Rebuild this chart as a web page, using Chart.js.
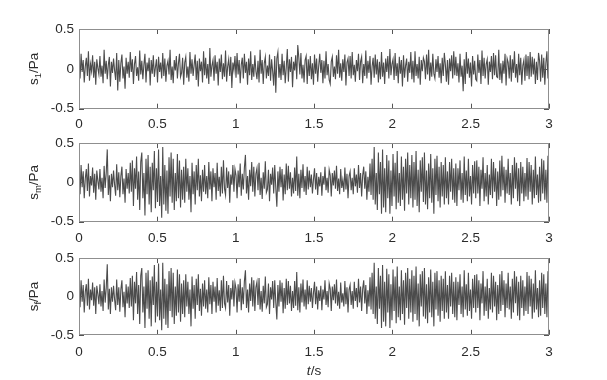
<!DOCTYPE html>
<html><head><meta charset="utf-8">
<script src="https://cdn.jsdelivr.net/npm/chart.js@4"></script>
<style>
html,body{margin:0;padding:0;background:#fff;}
#wrap{position:relative;width:607px;height:380px;overflow:hidden;}
canvas{position:absolute;left:0;}
</style></head><body>
<div id="wrap">
<canvas id="c1" width="607" height="130" style="top:0px;width:607px;height:130px"></canvas>
<canvas id="c2" width="607" height="115" style="top:130px;width:607px;height:115px"></canvas>
<canvas id="c3" width="607" height="135" style="top:245px;width:607px;height:135px"></canvas>
</div>
<script>
const duration = 3; // seconds, uniform sampling over [0, duration]
const xTicks = [0, 0.5, 1, 1.5, 2, 2.5, 3];
const xTickLabels = ['0', '0.5', '1', '1.5', '2', '2.5', '3'];
const yTicks = [-0.5, 0, 0.5];
const yTickLabels = ['-0.5', '0', '0.5'];

// s_1 / Pa
const s1 = [
 .08,-.12,.19,-.04,.11,-.17,.03,.14,-.09,.22,
 -.15,.06,-.03,.17,-.11,.09,-.20,.12,.01,-.07,
 .16,-.10,.04,-.18,.24,-.06,.10,-.13,.05,.15,
 -.22,.09,-.05,.13,-.02,-.14,.20,-.27,.11,-.16,
 .07,.18,-.12,.03,-.25,.14,-.06,.09,-.11,.21,
 -.04,.12,-.19,.06,.16,-.09,.02,-.15,.23,-.07,
 .10,-.13,.05,.19,-.17,.08,-.03,.14,-.21,.11,
 -.06,.17,-.10,.02,.12,-.17,.15,-.04,.08,-.12,
 .20,-.09,.13,-.16,.04,.10,-.07,.24,-.14,.03,
 -.18,.11,-.02,.16,-.12,.07,.19,-.10,-.05,.14,
 -.20,.08,.15,-.11,.03,-.16,.21,-.06,.12,-.09,
 .05,.18,-.14,.10,-.22,.13,-.03,.09,-.17,.22,
 -.08,.14,-.12,.06,-.19,.26,-.10,.04,.11,-.15,
 .17,-.06,.09,-.21,.13,-.04,.18,-.13,.07,-.10,
 .23,-.16,.03,.12,-.09,.15,-.24,.08,-.02,.16,
 -.11,.20,-.07,.11,-.18,.05,.14,-.12,.19,-.05,
 .09,-.20,.13,-.08,.22,-.14,.06,-.10,.17,-.03,
 -.13,.10,-.17,.24,-.06,.11,-.19,.07,.15,-.12,
 .04,-.09,.18,-.15,.12,-.03,-.21,.16,-.30,.13,
 .21,-.11,.06,-.14,.19,-.08,.10,-.18,.02,.25,
 -.16,.12,-.04,.15,-.23,.09,-.02,.17,-.13,.30,
 .14,-.07,.20,-.12,.05,-.17,.11,.16,-.19,.12,
 -.09,.16,-.13,.07,-.20,.18,-.06,.13,-.16,.04,
 .19,-.05,.11,-.18,.10,-.12,.22,-.08,.06,-.14,
 -.19,.09,.15,-.10,.03,-.13,.17,-.06,.24,-.11,
 .07,-.15,.12,-.04,.18,-.21,.08,.13,-.09,.16,
 -.12,.21,-.08,.05,-.16,.11,-.03,.19,-.14,.09,
 .15,-.18,.06,-.09,.23,-.12,.10,-.05,.16,-.20,
 .03,.14,-.11,.18,-.07,.12,-.17,.09,-.13,.21,
 -.10,.08,-.19,.13,-.04,.16,-.12,.25,-.08,.06,
 .12,-.14,.20,-.09,.07,-.18,.15,-.06,.11,-.22,
 .17,-.11,.04,.13,-.16,.09,-.05,.21,-.13,.10,
 -.17,.22,-.09,.06,-.12,.15,-.20,.11,-.03,.14,
 .09,-.13,.18,-.07,.24,-.15,.08,-.10,.19,-.06,
 -.12,.12,-.04,.16,-.11,.07,-.18,.14,-.09,.20,
 .05,-.16,.11,-.20,.13,-.03,.17,-.12,.22,-.08,
 .15,-.09,.07,-.17,.19,-.10,.04,-.28,.12,-.19,
 .21,-.06,.13,-.11,.08,-.22,.16,-.07,.10,-.13,
 -.15,.18,-.05,.11,-.19,.23,-.09,.14,-.12,.06,
 .12,-.20,.09,-.04,.16,-.13,.20,-.08,.17,-.10,
 -.11,.24,-.14,.07,-.18,.10,-.06,.19,-.21,.13,
 .08,-.12,.17,-.16,.12,-.05,.22,-.11,.06,-.17,
 .19,-.08,.14,-.20,.04,.11,-.15,.18,-.09,.16,
 -.13,.21,-.10,.15,-.07,.13,-.19,.09,-.14,.20,
 .10,-.16,.18,-.11,.14,-.20,.07,.22,-.12,.20
];

// s_m / Pa
const sm = [
 .10,-.15,.22,-.06,.14,-.20,.05,.17,-.11,.24,
 -.18,.08,-.04,.19,-.13,.11,-.22,.15,.02,-.09,
 .17,-.12,.06,-.20,.21,-.07,.12,.42,-.16,.09,
 -.24,.11,-.06,.15,-.03,-.17,.23,-.10,.13,-.19,
 .08,.20,-.15,.05,-.26,.17,-.08,.12,-.14,.25,
 -.12,.28,-.30,.18,-.08,.33,-.22,.14,-.35,.26,
 .38,-.20,.12,-.42,.30,-.15,.35,-.28,.20,-.38,
 .25,-.10,.40,-.33,.18,-.25,.42,-.30,.08,-.45,
 .45,-.28,.22,-.36,.15,-.40,.32,-.18,.38,-.26,
 .30,-.35,.12,-.24,.36,-.20,.28,-.32,.16,-.22,
 .20,-.26,.30,-.12,.18,-.22,.08,-.38,.25,-.15,
 .14,-.28,.22,-.10,.30,-.18,.09,-.24,.16,-.12,
 .22,-.15,.08,-.20,.26,-.09,.14,-.24,.18,-.06,
 .12,-.22,.25,-.11,.07,-.18,.20,-.14,.28,-.08,
 -.16,.19,-.07,.14,-.26,.10,-.03,.22,-.12,.17,
 .09,-.20,.15,-.06,.24,-.17,.11,-.09,.19,.35,
 -.14,.08,-.22,.16,-.05,.26,-.12,.20,-.18,.11,
 .18,-.10,.25,-.16,.06,-.21,.13,-.08,.27,-.13,
 -.09,.16,-.24,.11,-.03,.19,-.14,.22,-.07,-.31,
 .14,-.12,.20,-.06,.17,-.23,.10,-.15,.24,-.10,
 .21,-.08,.13,-.18,.06,-.14,.19,-.11,.33,-.17,
 .11,-.20,.16,-.07,.23,-.12,.08,-.16,.20,-.09,
 .15,-.06,.10,-.14,.04,.18,-.09,.12,-.16,.07,
 -.05,.13,-.17,.08,-.03,.20,-.10,.06,-.13,.16,
 .09,-.18,.12,-.04,.15,-.08,.21,-.11,.05,-.15,
 .17,-.07,.03,-.12,.19,-.09,.11,-.20,.08,.14,
 -.10,.06,-.15,.18,-.05,.10,-.13,.22,-.07,.12,
 -.18,.09,.20,-.08,.14,-.22,.07,-.12,.24,-.16,
 .30,-.22,.45,-.28,.12,-.35,.38,-.15,.26,-.40,
 .42,-.32,.18,-.38,.35,-.20,.28,-.40,.15,-.30,
 .36,-.18,.25,-.34,.40,-.26,.12,-.30,.33,-.22,
 .20,-.36,.30,-.14,.38,-.28,.22,-.20,.35,-.32,
 .26,-.22,.40,-.30,.16,-.38,.28,-.12,.32,-.25,
 .38,-.28,.15,-.34,.24,-.20,.36,-.26,.18,-.40,
 .30,-.16,.34,-.24,.20,-.32,.26,-.18,.22,-.28,
 .32,-.20,.14,-.28,.26,-.12,.30,-.22,.18,-.26,
 .24,-.30,.18,-.10,.28,-.22,.12,-.26,.33,-.16,
 .15,-.24,.30,-.18,.08,-.28,.22,-.14,.27,-.20,
 .28,-.14,.20,-.30,.16,-.08,.32,-.24,.12,-.18,
 .22,-.28,.10,-.16,.30,-.20,.26,-.12,.18,-.30,
 .14,-.22,.28,-.18,.34,-.10,.20,-.26,.16,-.14,
 .30,-.16,.12,-.28,.22,-.20,.32,-.08,.25,-.24,
 .18,-.30,.26,-.14,.20,-.24,.12,-.18,.31,-.22,
 .26,-.12,.22,-.28,.16,-.20,.33,-.16,.10,-.26,
 .20,-.24,.30,-.14,.28,-.22,.16,-.26,.34,.12
];

// s_f / Pa
const sf = [
 .11,-.14,.21,-.07,.15,-.21,.06,.16,-.12,.23,
 -.17,.09,-.05,.18,-.12,.12,-.23,.14,.03,-.10,
 .16,-.13,.07,-.19,.22,-.08,.11,.42,-.17,.10,
 -.23,.12,-.07,.14,-.04,-.18,.22,-.11,.12,-.20,
 .09,.21,-.14,.06,-.27,.16,-.09,.13,-.15,.24,
 -.13,.27,-.31,.19,-.09,.32,-.23,.15,-.36,.27,
 .37,-.21,.13,-.41,.31,-.16,.34,-.29,.21,-.39,
 .26,-.11,.41,-.34,.19,-.26,.43,-.31,.09,-.44,
 .44,-.29,.23,-.37,.16,-.41,.33,-.19,.37,-.27,
 .31,-.36,.13,-.25,.35,-.21,.29,-.33,.17,-.23,
 .21,-.27,.29,-.13,.19,-.23,.09,-.39,.26,-.16,
 .15,-.29,.23,-.11,.29,-.19,.10,-.25,.17,-.13,
 .21,-.16,.09,-.21,.25,-.10,.15,-.23,.19,-.07,
 .13,-.21,.24,-.12,.08,-.19,.21,-.15,.27,-.09,
 -.15,.20,-.08,.15,-.25,.11,-.04,.21,-.13,.18,
 .10,-.21,.16,-.07,.23,-.18,.12,-.10,.20,.34,
 -.15,.09,-.21,.17,-.06,.25,-.13,.21,-.19,.12,
 .19,-.11,.24,-.17,.07,-.20,.14,-.09,.26,-.14,
 -.10,.17,-.23,.12,-.04,.20,-.15,.21,-.08,-.30,
 .15,-.13,.21,-.07,.18,-.22,.11,-.16,.23,-.11,
 .20,-.09,.14,-.19,.07,-.15,.20,-.12,.32,-.18,
 .12,-.21,.17,-.08,.22,-.13,.09,-.17,.21,-.10,
 .14,-.07,.11,-.15,.05,.19,-.10,.13,-.17,.08,
 -.06,.14,-.18,.09,-.04,.21,-.11,.07,-.14,.17,
 .10,-.19,.13,-.05,.16,-.09,.22,-.12,.06,-.16,
 .18,-.08,.04,-.13,.20,-.10,.12,-.21,.09,.15,
 -.11,.07,-.16,.19,-.06,.11,-.14,.23,-.08,.13,
 -.19,.10,.21,-.09,.15,-.23,.08,-.13,.25,-.17,
 .31,-.23,.44,-.29,.13,-.36,.37,-.16,.27,-.41,
 .41,-.33,.19,-.39,.36,-.21,.29,-.41,.16,-.31,
 .35,-.19,.26,-.35,.39,-.27,.13,-.31,.34,-.23,
 .21,-.37,.31,-.15,.37,-.29,.23,-.21,.34,-.33,
 .27,-.23,.39,-.31,.17,-.39,.29,-.13,.33,-.26,
 .37,-.29,.16,-.35,.25,-.21,.35,-.27,.19,-.39,
 .31,-.17,.33,-.25,.21,-.33,.27,-.19,.23,-.29,
 .33,-.21,.15,-.29,.27,-.13,.31,-.23,.19,-.27,
 .25,-.31,.19,-.11,.29,-.23,.13,-.27,.34,-.17,
 .16,-.25,.31,-.19,.09,-.29,.23,-.15,.28,-.21,
 .29,-.15,.21,-.31,.17,-.09,.33,-.25,.13,-.19,
 .23,-.29,.11,-.17,.31,-.21,.27,-.13,.19,-.31,
 .15,-.23,.29,-.19,.33,-.11,.21,-.27,.17,-.15,
 .31,-.17,.13,-.29,.23,-.21,.33,-.09,.26,-.25,
 .19,-.31,.27,-.15,.21,-.25,.13,-.19,.32,-.23,
 .27,-.13,.23,-.29,.17,-.21,.34,-.17,.11,-.27,
 .21,-.25,.31,-.15,.29,-.23,.17,-.27,.33,.11
];

const FONT = '"Liberation Sans", Arial, Helvetica, sans-serif';
const TEXT = '#2b2b2b';
const FS = 13.5;

function toPoints(values) {
  const n = values.length;
  return values.map((v, i) => ({ x: i * duration / (n - 1), y: v }));
}

function framePlugin(sub, showXTitle) {
  return {
    id: 'matlabFrame',
    afterDraw(chart) {
      const { ctx, chartArea: a, scales } = chart;
      const x = scales.x, y = scales.y;
      ctx.save();
      ctx.strokeStyle = '#555555';
      ctx.lineWidth = 1;
      const tl = 5;
      ctx.beginPath();
      xTicks.forEach(v => {
        const px = Math.round(x.getPixelForValue(v)) + 0.5;
        ctx.moveTo(px, a.bottom); ctx.lineTo(px, a.bottom - tl);
        ctx.moveTo(px, a.top); ctx.lineTo(px, a.top + tl);
      });
      yTicks.forEach(v => {
        const py = Math.round(y.getPixelForValue(v)) + 0.5;
        ctx.moveTo(a.left, py); ctx.lineTo(a.left + tl, py);
        ctx.moveTo(a.right, py); ctx.lineTo(a.right - tl, py);
      });
      ctx.stroke();
      ctx.strokeStyle = '#8f8f8f';
      ctx.strokeRect(Math.round(a.left) + 0.5, Math.round(a.top) + 0.5,
                     Math.round(a.right) - Math.round(a.left) - 1,
                     Math.round(a.bottom) - Math.round(a.top) - 1);
      ctx.fillStyle = TEXT;
      ctx.translate(33, (a.top + a.bottom) / 2);
      ctx.rotate(-Math.PI / 2);
      const fMain = FS + 'px ' + FONT, fSub = '9.5px ' + FONT;
      ctx.font = fMain; const w1 = ctx.measureText('s').width;
      ctx.font = fSub; const w2 = ctx.measureText(sub).width;
      ctx.font = fMain; const w3 = ctx.measureText('/Pa').width;
      let cx = -(w1 + w2 + w3) / 2;
      const base = 5;
      ctx.textBaseline = 'alphabetic';
      ctx.textAlign = 'left';
      ctx.font = fMain; ctx.fillText('s', cx, base); cx += w1;
      ctx.font = fSub; ctx.fillText(sub, cx, base + 3); cx += w2;
      ctx.font = fMain; ctx.fillText('/Pa', cx, base);
      ctx.restore();
      if (showXTitle) {
        ctx.save();
        ctx.fillStyle = TEXT;
        ctx.textBaseline = 'alphabetic';
        ctx.textAlign = 'left';
        const fi = 'italic ' + FS + 'px ' + FONT, fr = FS + 'px ' + FONT;
        ctx.font = fi; const wa = ctx.measureText('t').width;
        ctx.font = fr; const wb = ctx.measureText('/s').width;
        let sx = (a.left + a.right) / 2 - (wa + wb) / 2;
        const by = 130;
        ctx.font = fi; ctx.fillText('t', sx, by); sx += wa;
        ctx.font = fr; ctx.fillText('/s', sx, by);
        ctx.restore();
      }
    }
  };
}

function makePanel(id, values, sub, plotTop, plotBottom, canvasH, labelPad, showXTitle) {
  new Chart(document.getElementById(id), {
    type: 'line',
    data: {
      datasets: [{
        data: toPoints(values),
        borderColor: '#4c4c4c',
        borderWidth: 1.1,
        pointRadius: 0,
        tension: 0,
        fill: false
      }]
    },
    options: {
      responsive: false,
      animation: false,
      devicePixelRatio: 1,
      events: [],
      layout: { padding: { left: 0, right: 58, top: plotTop, bottom: 0 } },
      plugins: { legend: { display: false }, tooltip: { enabled: false }, title: { display: false } },
      scales: {
        x: {
          type: 'linear', min: 0, max: duration,
          afterBuildTicks: s => { s.ticks = xTicks.map(v => ({ value: v })); },
          afterFit: s => { s.height = canvasH - plotBottom; },
          ticks: {
            autoSkip: false, maxRotation: 0, padding: labelPad,
            color: TEXT, font: { family: FONT, size: FS },
            callback: (v, i) => xTickLabels[i]
          },
          grid: { display: false, drawTicks: false },
          border: { display: false }
        },
        y: {
          type: 'linear', min: -0.5, max: 0.5,
          afterBuildTicks: s => { s.ticks = yTicks.map(v => ({ value: v })); },
          afterFit: s => { s.width = 79; },
          ticks: {
            autoSkip: false, padding: 5,
            color: TEXT, font: { family: FONT, size: FS },
            callback: (v, i) => yTickLabels[i]
          },
          grid: { display: false, drawTicks: false },
          border: { display: false }
        }
      }
    },
    plugins: [framePlugin(sub, showXTitle)]
  });
}

makePanel('c1', s1, '1', 29, 108.7, 130, 7, false);
makePanel('c2', sm, 'm', 12.5, 91.7, 115, 8, false);
makePanel('c3', sf, 'f', 10.7, 89.8, 135, 9, true);
</script>
</body></html>
